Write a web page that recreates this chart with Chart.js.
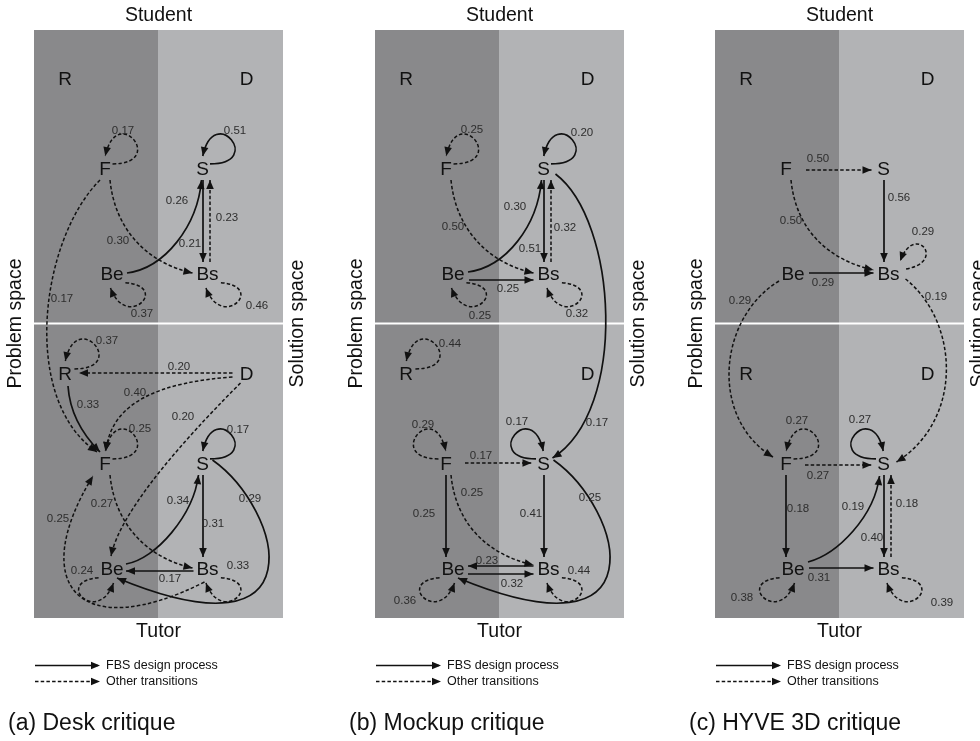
<!DOCTYPE html>
<html><head><meta charset="utf-8">
<script src="https://cdn.jsdelivr.net/npm/chart.js@4.4.1/dist/chart.umd.min.js"></script>
<style>html,body{margin:0;padding:0;background:#fff;}canvas{display:block;}</style>
</head><body>
<canvas id="c" width="980" height="741"></canvas>
<script>
// ---------------- data ----------------
const panelTitles = ['(a) Desk critique', '(b) Mockup critique', '(c) HYVE 3D critique'];
const roleLabels = ['Student', 'Tutor'];
const spaceLabels = ['Problem space', 'Solution space'];
const columnLabels = ['R', 'D'];
const legendLabels = ['FBS design process', 'Other transitions'];
const studentNodes = ['F', 'S', 'Be', 'Bs'];
const tutorNodes = ['R', 'D', 'F', 'S', 'Be', 'Bs'];

// transitions: [from, to, probability, type]  (1 = student half, 2 = tutor half; s = FBS process, d = other)
const deskTransitions = [
  ['F1','F1',0.17,'d'], ['S1','S1',0.51,'s'], ['Be1','Be1',0.37,'d'], ['Bs1','Bs1',0.46,'d'],
  ['F1','Bs1',0.30,'d'], ['Be1','S1',0.26,'s'], ['S1','Bs1',0.21,'s'], ['Bs1','S1',0.23,'d'],
  ['F1','F2',0.17,'d'],
  ['R2','R2',0.37,'d'], ['D2','R2',0.20,'d'], ['R2','F2',0.33,'s'], ['D2','F2',0.40,'d'], ['D2','Be2',0.20,'d'],
  ['F2','F2',0.25,'d'], ['S2','S2',0.17,'s'], ['F2','Bs2',0.27,'d'], ['Be2','S2',0.34,'s'], ['S2','Bs2',0.31,'s'],
  ['Bs2','Be2',0.17,'s'], ['S2','Be2',0.29,'s'], ['Bs2','F2',0.25,'d'], ['Be2','Be2',0.24,'d'], ['Bs2','Bs2',0.33,'d']
];
const mockupTransitions = [
  ['F1','F1',0.25,'d'], ['S1','S1',0.20,'s'], ['Be1','Be1',0.25,'d'], ['Bs1','Bs1',0.32,'d'],
  ['F1','Bs1',0.50,'d'], ['Be1','S1',0.30,'s'], ['Be1','Bs1',0.25,'s'], ['S1','Bs1',0.51,'s'], ['Bs1','S1',0.32,'d'],
  ['S1','S2',0.17,'s'],
  ['R2','R2',0.44,'d'], ['F2','F2',0.29,'d'], ['S2','S2',0.17,'s'], ['F2','S2',0.17,'d'], ['F2','Be2',0.25,'s'],
  ['F2','Bs2',0.25,'d'], ['S2','Bs2',0.41,'s'], ['S2','Be2',0.25,'s'], ['Bs2','Be2',0.23,'s'], ['Be2','Bs2',0.32,'s'],
  ['Be2','Be2',0.36,'d'], ['Bs2','Bs2',0.44,'d']
];
const hyveTransitions = [
  ['F1','S1',0.50,'d'], ['S1','Bs1',0.56,'s'], ['F1','Bs1',0.50,'d'], ['Be1','Bs1',0.29,'s'], ['Bs1','Bs1',0.29,'d'],
  ['Be1','F2',0.29,'d'], ['Bs1','S2',0.19,'d'],
  ['F2','F2',0.27,'d'], ['S2','S2',0.27,'s'], ['F2','S2',0.27,'d'], ['F2','Be2',0.18,'s'], ['Be2','S2',0.19,'s'],
  ['S2','Bs2',0.40,'s'], ['Bs2','S2',0.18,'d'], ['Be2','Bs2',0.31,'s'], ['Be2','Be2',0.38,'d'], ['Bs2','Bs2',0.39,'d']
];
const panelTransitions = [deskTransitions, mockupTransitions, hyveTransitions];

// ---------------- layout (diagram units) ----------------
const panelLeft = [34, 375, 715];
const PW = 249, DARKW = 124, PTOP = 30, PMID = 323.5, PBOT = 618;
const nodeCol = {R:31, F:71, Be:78, S:168.5, Bs:173.5, D:212.5};
const rowStudent = {F:168, S:168, Be:273, Bs:273};
const rowTutor = {R:373, D:373, F:463, S:463, Be:568, Bs:568};
const headerRow = 78;
const HX = {R:10, F:8, S:8, D:10, Be:14, Bs:14}, HY = 12;
const LOOPS = {
  UR:{a1:-20,a2:-88,b1:0,b2:-78,R:55,k:1},
  UL:{a1:200,a2:268,b1:180,b2:258,R:55,k:1},
  BR:{a1:40,a2:95,b1:5,b2:70,R:46,k:1.25},
  BL:{a1:140,a2:85,b1:175,b2:110,R:46,k:1.25},
  UR2:{a1:-15,a2:-50,b1:-10,b2:-70,R:42,k:1.3}
};
const SB = {s:[0.5,12], e:[-4.5,-11]}, BS = {s:[2.5,-11], e:[7.5,12]};
const FBs = {s:[5,12], e:[-15,0], c1:[5,50], c2:[-45,-10]};
const SBe = {s:[10,-3], e:[5,10], c1:[70,50], c2:[205,85]};
const shapes = [
 { // desk
  'F1>F1':{loop:'UR',l:[89,130]}, 'S1>S1':{loop:'UR',l:[201,130]}, 'Be1>Be1':{loop:'BR',l:[108,313]}, 'Bs1>Bs1':{loop:'BR',l:[223,305]},
  'F1>Bs1':{...FBs,l:[84,240]}, 'Be1>S1':{s:[15,0],e:[-1,12],c1:[38,-5],c2:[-4,46],l:[143,200]},
  'S1>Bs1':{...SB,l:[156,243]}, 'Bs1>S1':{...BS,l:[193,217]},
  'F1>F2':{s:[-5,12],e:[-8,-11],c1:[-60,60],c2:[-77,-52],l:[28,298]},
  'R2>R2':{loop:'UR',l:[73,340]}, 'D2>R2':{s:[-14,0],e:[14,0],l:[145,366]},
  'R2>F2':{s:[3,13],e:[-5,-11],c1:[2,30],c2:[-15,-15],l:[54,404]},
  'D2>F2':{s:[-14,4],e:[1,-12],c1:[-70,5],c2:[5,-50],l:[101,392]},
  'D2>Be2':{s:[-6,10],e:[-1,-12],c1:[-40,40],c2:[10,-50],l:[149,416]},
  'F2>F2':{loop:'UR',l:[106,428]}, 'S2>S2':{loop:'UR',l:[204,429]},
  'F2>Bs2':{...FBs,l:[68,503]}, 'Be2>S2':{s:[14,-4],e:[-4,12],c1:[30,-5],c2:[-5,40],l:[144,500]},
  'S2>Bs2':{...SB,l:[179,523]}, 'Bs2>Be2':{s:[-14,3],e:[14,3],l:[136,578]},
  'S2>Be2':{...SBe,l:[216,498]},
  'Bs2>F2':{s:[-3,14],e:[-12,13],c1:[-125,63],c2:[-67,109],l:[24,518]},
  'Be2>Be2':{loop:'BL',l:[48,570]}, 'Bs2>Bs2':{loop:'BR',l:[204,565]}
 },
 { // mockup
  'F1>F1':{loop:'UR',l:[97,129]}, 'S1>S1':{loop:'UR',l:[207,132]}, 'Be1>Be1':{loop:'BR',l:[105,315]}, 'Bs1>Bs1':{loop:'BR',l:[202,313]},
  'F1>Bs1':{...FBs,l:[78,226]}, 'Be1>S1':{s:[15,-1],e:[-2,12],c1:[38,-5],c2:[-4,46],l:[140,206]},
  'Be1>Bs1':{s:[16,7],e:[-15,7],l:[133,288]}, 'S1>Bs1':{...SB,l:[155,248]}, 'Bs1>S1':{...BS,l:[190,227]},
  'S1>S2':{s:[12,6],e:[9,-5],c1:[62,47],c2:[76,-48],l:[222,422]},
  'R2>R2':{loop:'UR',l:[75,343]}, 'F2>F2':{loop:'UL',l:[48,424]}, 'S2>S2':{loop:'UL',l:[142,421]},
  'F2>S2':{s:[19,0],e:[-12,0],l:[106,455]}, 'F2>Be2':{s:[0,12],e:[-7,-11],l:[49,513]},
  'F2>Bs2':{s:[5,12],e:[-15,-3],c1:[5,50],c2:[-45,-10],l:[97,492]},
  'S2>Bs2':{...SB,l:[156,513]}, 'S2>Be2':{...SBe,l:[215,497]},
  'Bs2>Be2':{s:[-15,-2],e:[15,-2],l:[112,560]}, 'Be2>Bs2':{s:[15,6],e:[-15,6],l:[137,583]},
  'Be2>Be2':{loop:'BL',l:[30,600]}, 'Bs2>Bs2':{loop:'BR',l:[204,570]}
 },
 { // hyve
  'F1>S1':{s:[20,2],e:[-12,2],l:[103,158]}, 'S1>Bs1':{...SB,l:[184,197]},
  'F1>Bs1':{s:[5,12],e:[-15,-3],c1:[5,50],c2:[-45,-10],l:[76,220]},
  'Be1>Bs1':{s:[16,0],e:[-15,0],l:[108,282]}, 'Bs1>Bs1':{loop:'UR2',l:[208,231]},
  'Be1>F2':{s:[-14,8],e:[-13,-6],c1:[-62,38],c2:[-63,-38],l:[25,300]},
  'Bs1>S2':{s:[17,6],e:[13,-1],c1:[53,42],c2:[68,-43],l:[221,296]},
  'F2>F2':{loop:'UR',l:[82,420]}, 'S2>S2':{loop:'UL',l:[145,419]},
  'F2>S2':{s:[19,2],e:[-12,2],l:[103,475]}, 'F2>Be2':{s:[0,12],e:[-7,-11],l:[83,508]},
  'Be2>S2':{s:[15,-6],e:[-4,13],c1:[30,-8],c2:[-5,40],l:[138,506]},
  'S2>Bs2':{...SB,l:[157,537]}, 'Bs2>S2':{...BS,l:[192,503]},
  'Be2>Bs2':{s:[16,0],e:[-15,0],l:[104,577]},
  'Be2>Be2':{loop:'BL',l:[27,597]}, 'Bs2>Bs2':{loop:'BR',l:[227,602]}
 }
];

const DARK = '#89898b', LIGHT = '#b2b3b5', INK = '#111111', LBL = '#2e2e2e';
const FONT = '"Liberation Sans", Arial, Helvetica, sans-serif';

// node points (through the chart's scatter dataset)
const nodePoints = [];
panelLeft.forEach((x0, p) => {
  studentNodes.forEach(n => nodePoints.push({x: x0 + nodeCol[n], y: rowStudent[n], label: n, id: n + '1', panel: p}));
  tutorNodes.forEach(n => nodePoints.push({x: x0 + nodeCol[n], y: rowTutor[n], label: n, id: n + '2', panel: p}));
});

function parseId(id) { return {name: id.slice(0, -1), half: id.slice(-1)}; }

const diagramPlugin = {
  id: 'fbsDiagram',
  beforeDatasetsDraw(chart) {
    const {ctx} = chart; const sx = chart.scales.x, sy = chart.scales.y;
    const X = v => sx.getPixelForValue(v), Y = v => sy.getPixelForValue(v);
    ctx.save();
    panelLeft.forEach(x0 => {
      ctx.fillStyle = DARK; ctx.fillRect(X(x0), Y(PTOP), X(x0 + DARKW) - X(x0), Y(PBOT) - Y(PTOP));
      ctx.fillStyle = LIGHT; ctx.fillRect(X(x0 + DARKW), Y(PTOP), X(x0 + PW) - X(x0 + DARKW), Y(PBOT) - Y(PTOP));
      ctx.fillStyle = '#ffffff'; ctx.fillRect(X(x0), Y(PMID - 1), X(x0 + PW) - X(x0), Y(PMID + 1) - Y(PMID - 1));
    });
    ctx.restore();
  },
  afterDatasetsDraw(chart) {
    const {ctx} = chart; const sx = chart.scales.x, sy = chart.scales.y;
    const X = v => sx.getPixelForValue(v), Y = v => sy.getPixelForValue(v);
    const meta = chart.getDatasetMeta(0);
    const centers = {};
    meta.data.forEach((el, i) => { const d = nodePoints[i]; centers[d.panel + ':' + d.id] = d; });
    const toPx = pt => [X(pt[0]), Y(pt[1])];
    function arrowHead(tip, from) {
      const a = Math.atan2(tip[1] - from[1], tip[0] - from[0]);
      const L = 9, W = 3.8;
      ctx.save(); ctx.setLineDash([]); ctx.fillStyle = INK;
      ctx.beginPath();
      ctx.moveTo(tip[0], tip[1]);
      ctx.lineTo(tip[0] - L * Math.cos(a) + W * Math.sin(a), tip[1] - L * Math.sin(a) - W * Math.cos(a));
      ctx.lineTo(tip[0] - L * Math.cos(a) - W * Math.sin(a), tip[1] - L * Math.sin(a) + W * Math.cos(a));
      ctx.closePath(); ctx.fill(); ctx.restore();
    }
    function setStroke(kind) {
      ctx.strokeStyle = INK;
      if (kind === 's') { ctx.lineWidth = 1.7; ctx.setLineDash([]); }
      else { ctx.lineWidth = 1.5; ctx.setLineDash([3.5, 2.2]); }
    }
    function bez(P0, P1, P2, P3, kind) {
      const a = toPx(P0), b = toPx(P1), c = toPx(P2), d = toPx(P3);
      setStroke(kind);
      ctx.beginPath(); ctx.moveTo(a[0], a[1]); ctx.bezierCurveTo(b[0], b[1], c[0], c[1], d[0], d[1]); ctx.stroke();
      arrowHead(d, c);
    }
    const deg = a => a * Math.PI / 180;
    ctx.save();
    ctx.lineCap = 'butt';
    panelTransitions.forEach((list, p) => {
      const x0 = panelLeft[p];
      list.forEach(([from, to, val, kind]) => {
        const A = centers[p + ':' + from], B = centers[p + ':' + to];
        const sh = shapes[p][from + '>' + to];
        if (from === to) {
          const L = LOOPS[sh.loop], nm = parseId(from).name;
          const hx = HX[nm] * L.k, hy = HY * L.k;
          const P0 = [A.x + hx * Math.cos(deg(L.a1)), A.y + hy * Math.sin(deg(L.a1))];
          const P3 = [A.x + hx * Math.cos(deg(L.a2)), A.y + hy * Math.sin(deg(L.a2))];
          const P1 = [P0[0] + L.R * Math.cos(deg(L.b1)), P0[1] + L.R * Math.sin(deg(L.b1))];
          const P2 = [P3[0] + L.R * Math.cos(deg(L.b2)), P3[1] + L.R * Math.sin(deg(L.b2))];
          bez(P0, P1, P2, P3, kind);
        } else {
          const P0 = [A.x + sh.s[0], A.y + sh.s[1]];
          const P3 = [B.x + sh.e[0], B.y + sh.e[1]];
          if (sh.c1) {
            bez(P0, [P0[0] + sh.c1[0], P0[1] + sh.c1[1]], [P3[0] + sh.c2[0], P3[1] + sh.c2[1]], P3, kind);
          } else {
            const a = toPx(P0), d = toPx(P3);
            setStroke(kind);
            ctx.beginPath(); ctx.moveTo(a[0], a[1]); ctx.lineTo(d[0], d[1]); ctx.stroke();
            arrowHead(d, a);
          }
        }
        // probability label
        ctx.setLineDash([]);
        ctx.fillStyle = LBL; ctx.font = '11.5px ' + FONT; ctx.textAlign = 'center'; ctx.textBaseline = 'alphabetic';
        ctx.fillText(val.toFixed(2), X(x0 + sh.l[0]), Y(sh.l[1] + 4));
      });
    });
    // node labels
    ctx.fillStyle = INK; ctx.font = '19px ' + FONT; ctx.textAlign = 'center'; ctx.textBaseline = 'alphabetic';
    meta.data.forEach((el, i) => { ctx.fillText(nodePoints[i].label, el.x, el.y + 7); });
    // column headers, roles, space labels, legend, captions
    panelLeft.forEach((x0, p) => {
      ctx.fillStyle = INK; ctx.font = '19px ' + FONT; ctx.textAlign = 'center'; ctx.textBaseline = 'alphabetic';
      ctx.fillText(columnLabels[0], X(x0 + nodeCol.R), Y(headerRow + 7));
      ctx.fillText(columnLabels[1], X(x0 + nodeCol.D), Y(headerRow + 7));
      ctx.font = '19.5px ' + FONT; ctx.textBaseline = 'middle';
      ctx.fillText(roleLabels[0], X(x0 + PW / 2), Y(16));
      ctx.fillText(roleLabels[1], X(x0 + PW / 2), Y(632));
      ctx.save(); ctx.translate(X(x0 - 18), Y(PMID)); ctx.rotate(-Math.PI / 2);
      ctx.fillText(spaceLabels[0], 0, 0); ctx.restore();
      ctx.save(); ctx.translate(X(x0 + PW + 15), Y(PMID)); ctx.rotate(-Math.PI / 2);
      ctx.fillText(spaceLabels[1], 0, 0); ctx.restore();
      // legend
      [['s', 665.5], ['d', 681.5]].forEach(([k, yy], j) => {
        setStroke(k);
        ctx.lineWidth = k === 's' ? 1.5 : 1.3;
        ctx.beginPath(); ctx.moveTo(X(x0 + 1), Y(yy)); ctx.lineTo(X(x0 + 64), Y(yy)); ctx.stroke();
        arrowHead([X(x0 + 66), Y(yy)], [X(x0), Y(yy)]);
        ctx.setLineDash([]);
        ctx.fillStyle = INK; ctx.font = '12.5px ' + FONT; ctx.textAlign = 'left'; ctx.textBaseline = 'middle';
        ctx.fillText(legendLabels[j], X(x0 + 72), Y(yy));
      });
      ctx.font = '23px ' + FONT; ctx.textAlign = 'left'; ctx.textBaseline = 'middle'; ctx.fillStyle = INK;
      ctx.fillText(panelTitles[p], X(x0 - 26), Y(724));
    });
    ctx.restore();
  }
};

const chart = new Chart(document.getElementById('c'), {
  type: 'scatter',
  data: {datasets: [{data: nodePoints, pointRadius: 0, pointHoverRadius: 0}]},
  options: {
    responsive: false, animation: false, events: [],
    layout: {padding: 0},
    plugins: {legend: {display: false}, tooltip: {enabled: false}},
    scales: {
      x: {type: 'linear', min: 0, max: 980, display: false},
      y: {type: 'linear', min: 0, max: 741, reverse: true, display: false}
    }
  },
  plugins: [diagramPlugin]
});
</script>
</body></html>
